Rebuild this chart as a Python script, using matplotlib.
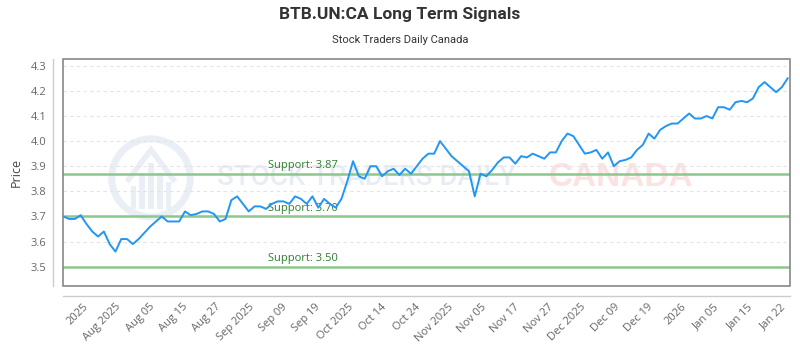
import numpy as np
import matplotlib.pyplot as plt
from matplotlib.patches import Ellipse, Rectangle, Polygon

plt.rcParams['font.family'] = ['Open Sans', 'DejaVu Sans']

# closing prices, one per trading day
prices = [3.70, 3.69, 3.69, 3.705, 3.67, 3.64, 3.62, 3.64, 3.59, 3.56,
          3.61, 3.61, 3.59, 3.61, 3.635, 3.66, 3.68, 3.70, 3.68, 3.68,
          3.68, 3.72, 3.705, 3.71, 3.72, 3.72, 3.71, 3.68, 3.69, 3.765,
          3.78, 3.75, 3.72, 3.74, 3.74, 3.73, 3.75, 3.76, 3.76, 3.75,
          3.78, 3.77, 3.75, 3.78, 3.735, 3.77, 3.75, 3.735, 3.77, 3.84,
          3.92, 3.86, 3.85, 3.90, 3.90, 3.86, 3.88, 3.89, 3.865, 3.89,
          3.87, 3.90, 3.93, 3.95, 3.95, 4.00, 3.97, 3.94, 3.92, 3.90,
          3.88, 3.78, 3.87, 3.86, 3.885, 3.915, 3.935, 3.935, 3.91, 3.94,
          3.935, 3.95, 3.94, 3.93, 3.955, 3.955, 4.00, 4.03, 4.02, 3.985,
          3.95, 3.955, 3.965, 3.93, 3.955, 3.90, 3.92, 3.925, 3.935, 3.965,
          3.985, 4.03, 4.01, 4.045, 4.06, 4.07, 4.07, 4.09, 4.11, 4.09,
          4.09, 4.10, 4.09, 4.135, 4.135, 4.125, 4.155, 4.16, 4.155, 4.17,
          4.215, 4.235, 4.215, 4.195, 4.215, 4.25]

tick_labels = ['2025', 'Aug 2025', 'Aug 05', 'Aug 15', 'Aug 27', 'Sep 2025',
               'Sep 09', 'Sep 19', 'Oct 2025', 'Oct 14', 'Oct 24', 'Nov 2025',
               'Nov 05', 'Nov 17', 'Nov 27', 'Dec 2025', 'Dec 09', 'Dec 19',
               '2026', 'Jan 05', 'Jan 15', 'Jan 22']

support_levels = [3.87, 3.70, 3.50]

x = np.arange(len(prices))
tick_pos = np.linspace(3.3, 123.7, len(tick_labels))

fig = plt.figure(figsize=(8, 3.5), dpi=100)
ax = fig.add_axes([63 / 800, 1 - 286 / 350, 727 / 800, 227 / 350])

# frame around the plot area plus offset axis lines (before ticks: set_position resets them)
for side in ['top', 'right']:
    ax.spines[side].set_visible(False)
for side in ['left', 'bottom']:
    ax.spines[side].set_position(('outward', 7.5))
    ax.spines[side].set_color('#cccccc')
    ax.spines[side].set_linewidth(1)
ax.add_patch(Rectangle((0, 0), 1, 1, transform=ax.transAxes, fill=False,
                       ec='#888888', lw=1.2, clip_on=False, zorder=5))

# watermark
wm_col = '#eaeff6'
wm = dict(transform=ax.transAxes, zorder=0)
ax.add_patch(Ellipse((0.121, 0.476), 0.108, 0.345, fill=False, lw=5,
                     ec=wm_col, **wm))
ax.add_patch(Polygon([(0.088, 0.46), (0.121, 0.60), (0.154, 0.46)], closed=False,
                     fill=False, lw=4, ec=wm_col, **wm))
for i, h in enumerate([0.10, 0.16, 0.20, 0.16, 0.12]):
    ax.add_patch(Rectangle((0.093 + i * 0.012, 0.34), 0.008, h, fc=wm_col,
                           ec='none', **wm))
ax.text(0.418, 0.476, 'STOCK TRADERS DAILY', ha='center', va='center',
        fontsize=20, fontweight='medium', color='#e8edf4',
        family=['Roboto', 'DejaVu Sans'], **wm)
ax.text(0.768, 0.476, 'CANADA', ha='center', va='center', fontsize=24,
        fontweight='bold', color='#fde2e2',
        family=['Liberation Sans', 'DejaVu Sans'], **wm)

for lvl in support_levels:
    ax.axhline(lvl, color='#8cc78c', lw=1.8, zorder=2)
    ax.annotate(f'Support: {lvl:.2f}', xy=(0.282, lvl),
                xycoords=ax.get_yaxis_transform(), xytext=(0, 2),
                textcoords='offset points', ha='left', va='bottom',
                fontsize=8, color='#2e7d32', zorder=3)

ax.plot(x, prices, color='#2196f3', lw=1.4, zorder=4)

ax.set_xlim(-0.05, 125.4)
ax.set_ylim(3.423, 4.327)
ax.set_yticks(np.arange(3.5, 4.31, 0.1))
ax.set_yticklabels([f'{v:.1f}' for v in np.arange(3.5, 4.31, 0.1)])
ax.set_xticks(tick_pos)
ax.set_xticklabels(tick_labels, rotation=45, ha='right', va='top',
                   rotation_mode='anchor')
ax.grid(axis='y', color='#e3e3e3', linestyle=(0, (3, 3)), lw=0.8, zorder=1)
ax.tick_params(length=0, labelsize=8, labelcolor='#666666')
ax.tick_params(axis='x', pad=3.5)
ax.tick_params(axis='y', pad=4.5)

ax.set_ylabel('Price', fontsize=9, color='#444444')
ax.yaxis.set_label_coords(-0.055, 0.5)

fig.text(0.5, 1 - 15 / 350, 'BTB.UN:CA Long Term Signals', ha='center',
         va='center', fontsize=12.5, fontweight='bold', color='#333333',
         family=['Roboto', 'DejaVu Sans'])
fig.text(0.5, 1 - 40 / 350, 'Stock Traders Daily Canada', ha='center',
         va='center', fontsize=8, color='#333333',
         family=['Roboto', 'DejaVu Sans'])

fig.savefig('out.png', dpi=100)
